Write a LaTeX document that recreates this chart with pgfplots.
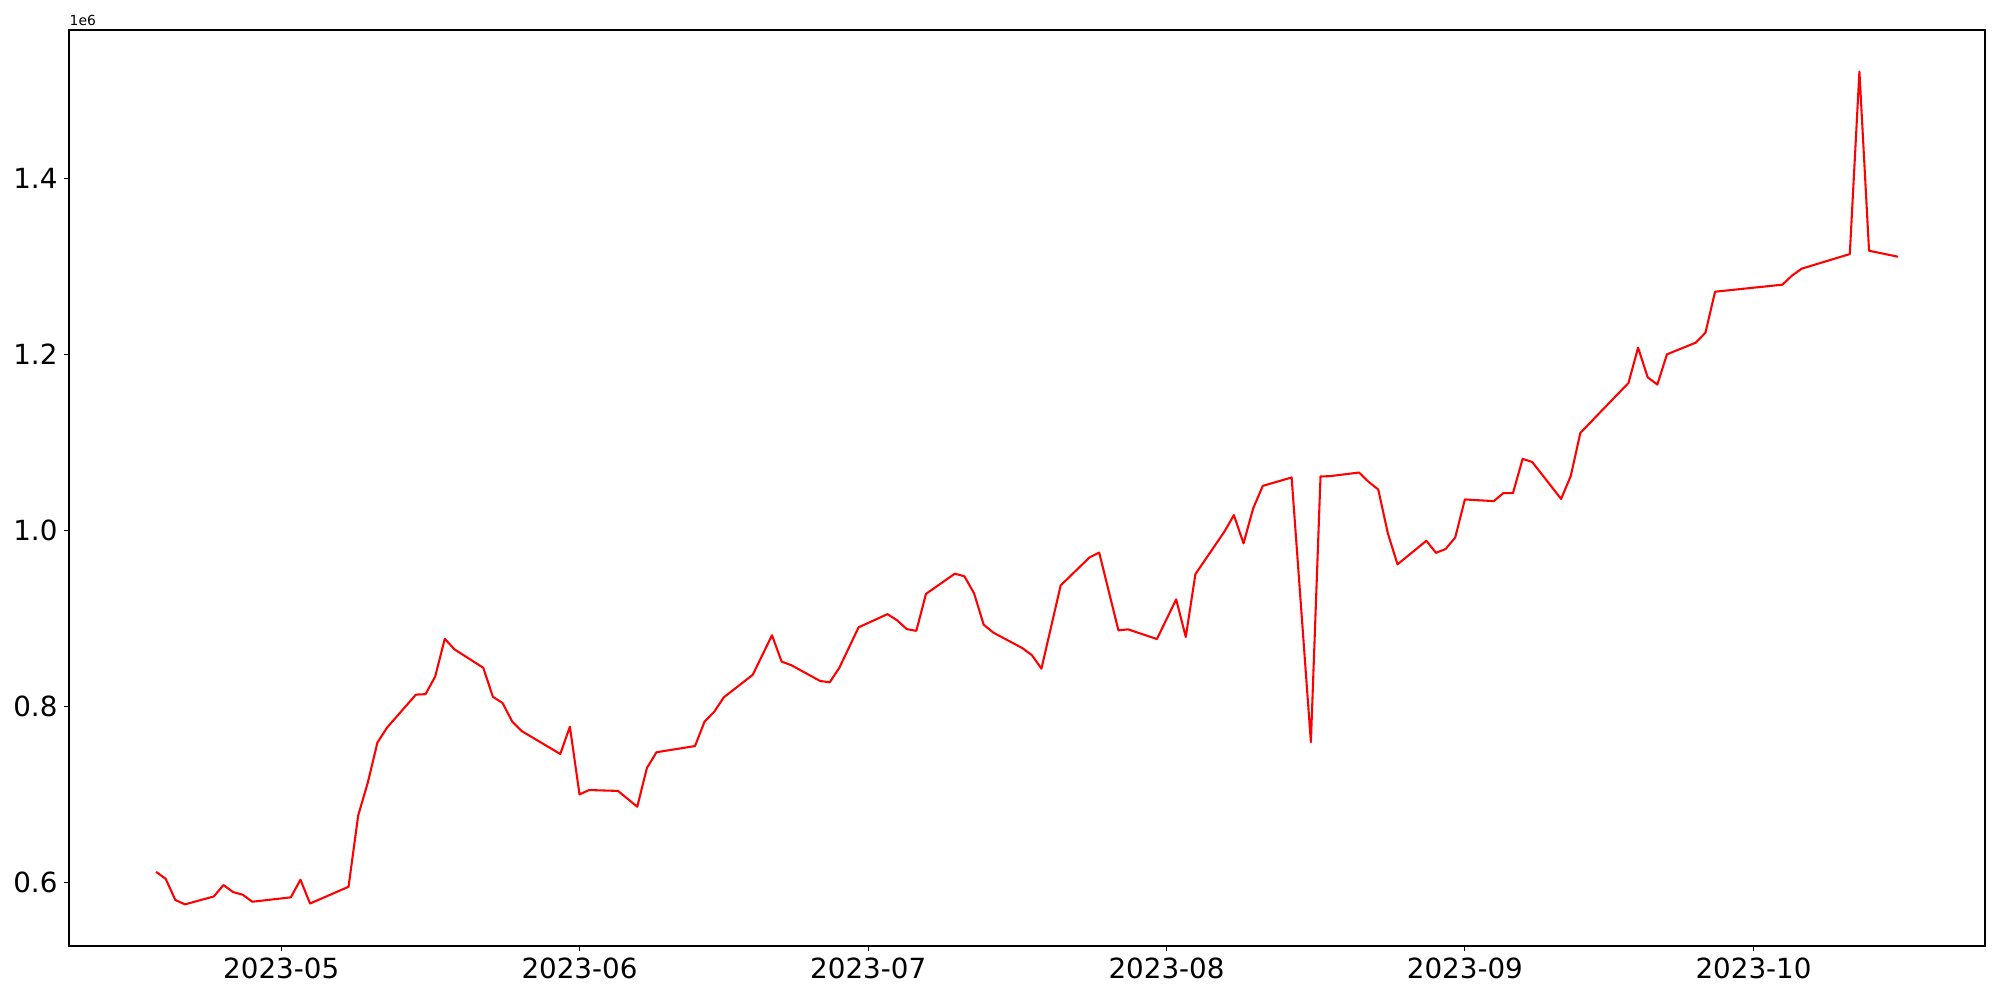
\documentclass[border=0pt]{standalone}
\usepackage{fontspec}
\setmainfont{DejaVu Sans}
\usepackage{pgfplots}
\pgfplotsset{compat=1.18}
% x = days since 2023-05-01, y = value in millions
\begin{document}
\begin{tikzpicture}
\path[use as bounding box] (-6.9mm,-5.4mm) rectangle (193.1mm,94.6mm);
\begin{axis}[
  name=main,
  at={(0,0)}, anchor=south west,
  scale only axis, width=191.6mm, height=91.6mm,
  xmin=-22.05, xmax=177.05, ymin=0.5277, ymax=1.5692,
  xtick={0,31,61,92,123,153},
  xticklabels={2023-05,2023-06,2023-07,2023-08,2023-09,2023-10},
  ytick={0.6,0.8,1.0,1.2,1.4},
  yticklabel style={/pgf/number format/.cd, fixed, fixed zerofill, precision=1},
  /pgf/number format/assume math mode=true,
  ticklabel style={font=\fontsize{7.9}{9}\selectfont, inner sep=0pt},
  xticklabel shift=0.67mm, yticklabel shift=0.6mm,
  tick align=outside, major tick length=0.486mm,
  every tick/.style={black, line width=0.111mm},
  axis line style={line width=0.111mm},
  xtick pos=lower, ytick pos=left,
  scaled y ticks=false,
]
\addplot[color=red, line width=0.208mm, line join=round] table {
x y
-13 0.612
-12 0.604
-11 0.580
-10 0.575
-7 0.584
-6 0.597
-5 0.589
-4 0.586
-3 0.578
1 0.583
2 0.603
3 0.576
7 0.595
8 0.676
9 0.7135
10 0.759
11 0.776
14 0.8135
15 0.814
16 0.834
17 0.877
18 0.865
21 0.844
22 0.811
23 0.804
24 0.783
25 0.772
29 0.746
30 0.777
31 0.700
32 0.705
35 0.704
37 0.686
38 0.730
39 0.748
43 0.755
44 0.783
45 0.794
46 0.8105
49 0.836
50 0.8585
51 0.881
52 0.851
53 0.847
56 0.829
57 0.8275
58 0.844
60 0.890
63 0.905
64 0.898
65 0.888
66 0.886
67 0.928
70 0.951
71 0.948
72 0.9286
73 0.893
74 0.884
77 0.8665
78 0.8585
79 0.843
81 0.9377
84 0.9695
85 0.975
87 0.8866
88 0.8877
91 0.8767
93 0.9218
94 0.879
95 0.9505
98 0.9986
99 1.0176
100 0.9854
101 1.0252
102 1.0508
105 1.0604
107 0.7594
108 1.0615
109 1.0619
112 1.066
113 1.0554
114 1.0467
115 0.9968
116 0.9616
119 0.9884
120 0.9747
121 0.979
122 0.9922
123 1.0354
126 1.0335
127 1.0426
128 1.0426
129 1.0815
130 1.078
133 1.036
134 1.0619
135 1.111
137 1.1338
140 1.1678
141 1.208
142 1.1743
143 1.166
144 1.2004
147 1.2137
148 1.225
149 1.2716
156 1.2796
157 1.290
158 1.2978
163 1.3144
164 1.5219
165 1.3182
168 1.3114
};
\end{axis}
\node[anchor=south west, inner sep=0pt, font=\fontsize{3.95}{4.5}\selectfont] at ([yshift=0.4mm]main.north west) {1e6};
\end{tikzpicture}
\end{document}
